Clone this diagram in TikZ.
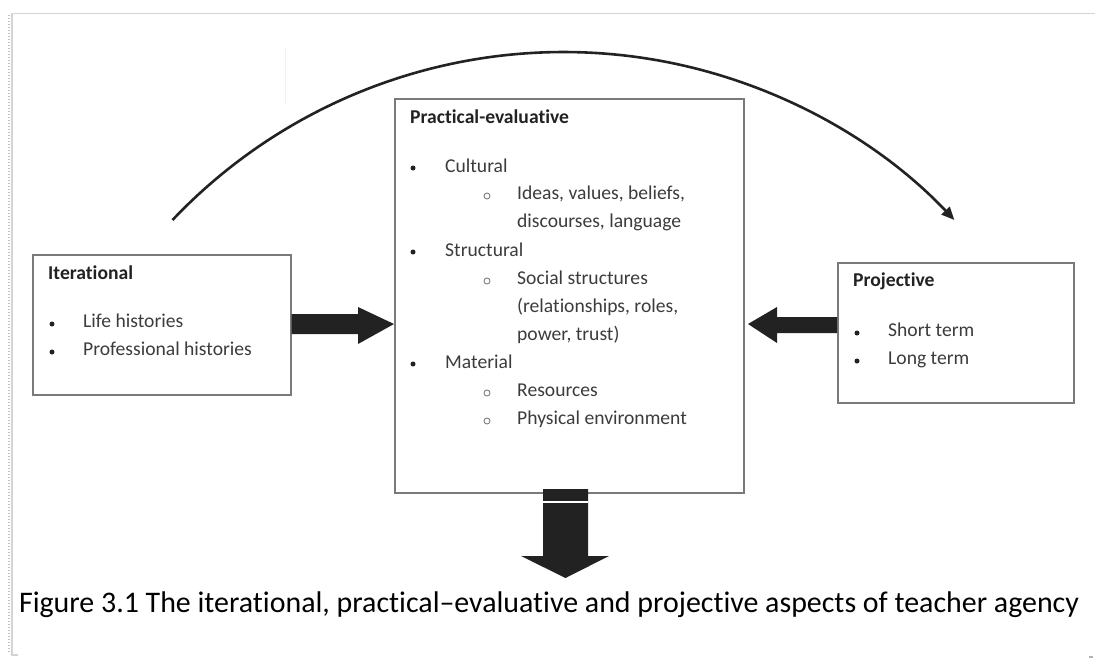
\documentclass[tikz,border=0pt]{standalone}
\usepackage{fontspec}
\setmainfont{Carlito}[Ligatures=NoCommon]
\usetikzlibrary{arrows.meta}
\definecolor{boxline}{HTML}{7A7A7A}
\definecolor{ink}{HTML}{222222}
\definecolor{bodytext}{HTML}{3C3C3C}
\definecolor{pagegray}{HTML}{D4D4D4}
\begin{document}
\begin{tikzpicture}[x=1pt,y=-1pt,
  box/.style={draw=boxline,line width=1.6pt,fill=white,inner sep=0pt,anchor=north west},
  title/.style={anchor=west,inner sep=0pt,font=\fontsize{19.6}{22}\selectfont\bfseries,text=ink,text height=13pt,text depth=4pt},
  item/.style={anchor=west,inner sep=0pt,font=\fontsize{19.6}{22}\selectfont,text=bodytext,text height=13pt,text depth=4pt},
  dot/.style={circle,fill=ink,inner sep=0pt,minimum size=5pt},
  ring/.style={circle,draw=gray,line width=0.9pt,inner sep=0pt,minimum size=6pt},
  fat/.style={fill=ink,draw=none}]
\useasboundingbox (0,0) rectangle (1095,659);
% page edge of the scanned sheet
\draw[pagegray,line width=1pt] (12,13) -- (1095,13);
\draw[pagegray,line width=1.5pt] (12,13) -- (12,655) -- (18,655);
\draw[pagegray!80!gray,line width=2.5pt,dash pattern=on 1pt off 2pt] (9,15) -- (9,652);
\draw[gray!60,line width=1.5pt] (1089,657) -- (1093,657);
\draw[gray!10,line width=0.8pt] (285,48) -- (285,105);

% the three boxes
\node[box,minimum width=258pt,minimum height=140pt] (iter) at (32,254) {};
\node[box,minimum width=349pt,minimum height=394pt] (prac) at (394,98) {};
\node[box,minimum width=236pt,minimum height=140pt] (proj) at (837,262) {};

% Iterational
\node[title] (iterT) at (48,275) {Iterational};
\node[dot] (ib1) at (52,324) {};
\node[item] (it1) at (83,323) {Life histories};
\node[dot] (ib2) at (52,352) {};
\node[item] (it2) at (83,351) {Professional histories};

% Practical-evaluative
\node[title] (pracT) at (410,119) {Practical-evaluative};
\node[dot] (pb1) at (413,168) {};
\node[item] (pc1) at (445,168) {Cultural};
\node[ring] (pr1) at (487,196) {};
\node[item] (pc1a) at (517,195) {Ideas, values, beliefs,};
\node[item] (pc1b) at (517,223) {discourses, language};
\node[dot] (pb2) at (413,252) {};
\node[item] (pc2) at (445,252) {Structural};
\node[ring] (pr2) at (487,281) {};
\node[item] (pc2a) at (517,280) {Social structures};
\node[item] (pc2b) at (517,308) {(relationships, roles,};
\node[item] (pc2c) at (517,336) {power, trust)};
\node[dot] (pb3) at (413,364) {};
\node[item] (pc3) at (445,364) {Material};
\node[ring] (pr3) at (487,393) {};
\node[item] (pc3a) at (517,392) {Resources};
\node[ring] (pr4) at (487,421) {};
\node[item] (pc3b) at (517,420) {Physical environment};

% Projective
\node[title] (projT) at (853,282) {Projective};
\node[dot] (jb1) at (857,333) {};
\node[item] (jt1) at (888,332) {Short term};
\node[dot] (jb2) at (857,361) {};
\node[item] (jt2) at (888,360) {Long term};

% block arrows into the middle box
\fill[fat] (iter.east |- 0,314) -- (358,314) -- (358,307) -- (prac.west |- 0,324)
  -- (358,344) -- (358,334) -- (iter.east |- 0,334) -- cycle;
\fill[fat] (proj.west |- 0,317) -- (777,317) -- (777,307) -- (748,324)
  -- (777,343) -- (777,333) -- (proj.west |- 0,333) -- cycle;

% block arrow out of the middle box
\fill[fat] (543,489) -- (588,489) -- (588,556) -- (609,556) -- (565.5,578)
  -- (521,556) -- (543,556) -- cycle;
\draw[white,line width=1.2pt] (543,502) -- (588,502);

% sweeping arc from past to future
\coordinate (arcStart) at (172.5,220);
\draw[ink,line width=2.6pt,-{Triangle[length=13pt,width=11pt]}]
  (arcStart) arc[start angle=-136.5,end angle=-43.5,radius=539] coordinate (arcEnd);

% caption
\node[inner sep=0pt,font=\fontsize{29.9}{32}\selectfont,text=black] (cap) at (549,605)
  {Figure 3.1 The iterational, practical--evaluative and projective aspects of teacher agency};
\end{tikzpicture}
\end{document}
